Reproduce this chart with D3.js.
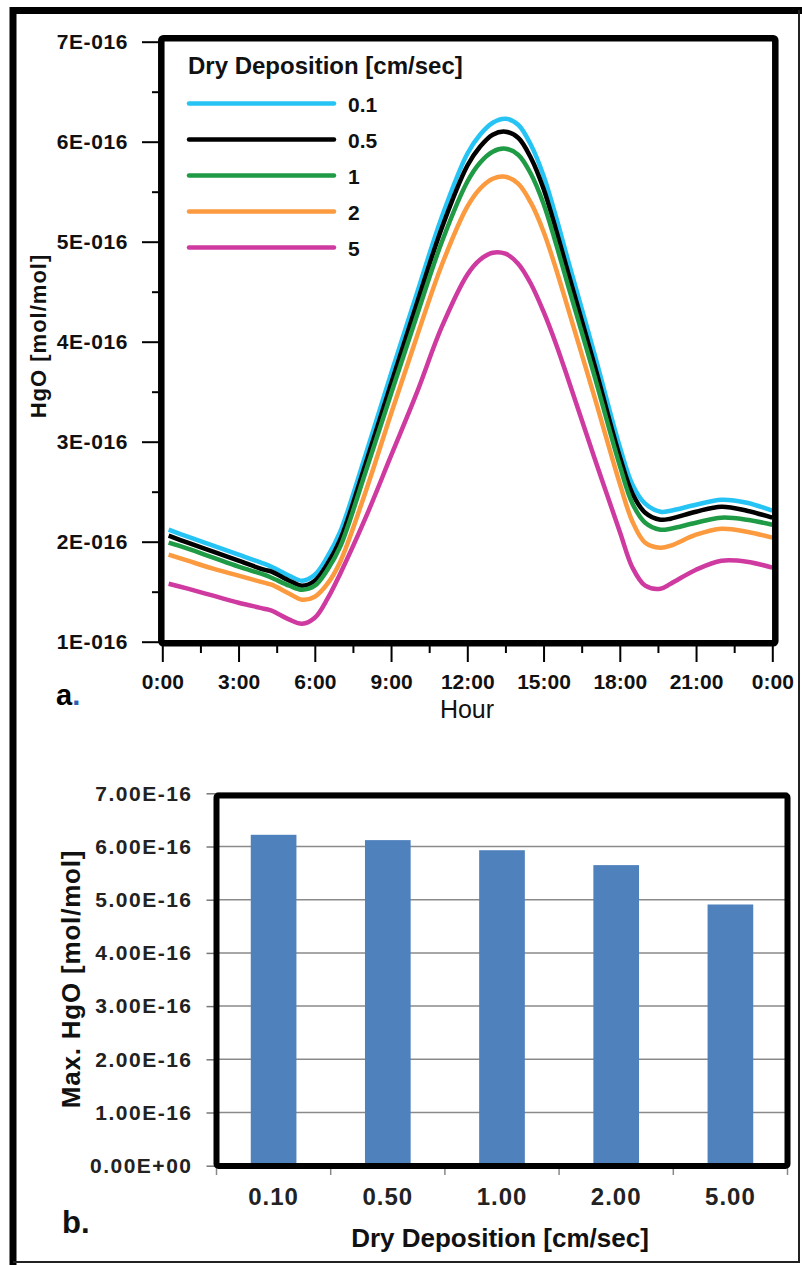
<!DOCTYPE html>
<html>
<head>
<meta charset="utf-8">
<script src="https://cdn.jsdelivr.net/npm/d3@7"></script>
<style>
  body { margin: 0; background: #fff; }
  svg { display: block; }
  text { font-family: "Liberation Sans", Arial, sans-serif; }
</style>
</head>
<body>
<svg id="chart" width="802" height="1265"></svg>
<script>
// panel a: hour of day
const hours = [0.25, 1, 2, 3, 4, 4.3, 5, 5.5, 6, 6.5, 7, 8, 9, 10, 11, 12, 12.5, 13, 13.5, 14, 14.5, 15, 15.5, 16, 17, 18, 18.5, 19, 19.6, 20, 21, 22, 23, 24];
// HgO in units of 1E-016 mol/mol, one array per dry deposition velocity
const hgo_01 = [2.12, 2.05, 1.96, 1.87, 1.78, 1.75, 1.66, 1.61, 1.67, 1.85, 2.10, 2.87, 3.68, 4.47, 5.25, 5.88, 6.07, 6.19, 6.23, 6.17, 5.97, 5.66, 5.24, 4.78, 3.88, 2.95, 2.57, 2.38, 2.30, 2.31, 2.37, 2.42, 2.39, 2.31];
const hgo_05 = [2.06, 1.99, 1.90, 1.81, 1.72, 1.70, 1.61, 1.56, 1.61, 1.78, 2.02, 2.78, 3.58, 4.37, 5.14, 5.76, 5.95, 6.07, 6.10, 6.04, 5.84, 5.53, 5.11, 4.66, 3.77, 2.85, 2.48, 2.29, 2.22, 2.23, 2.30, 2.35, 2.31, 2.24];
const hgo_1 = [1.99, 1.93, 1.84, 1.75, 1.67, 1.64, 1.56, 1.52, 1.56, 1.72, 1.95, 2.70, 3.48, 4.25, 5.00, 5.60, 5.79, 5.90, 5.93, 5.87, 5.68, 5.38, 4.97, 4.53, 3.66, 2.76, 2.38, 2.19, 2.12, 2.13, 2.19, 2.24, 2.22, 2.17];
const hgo_2 = [1.87, 1.81, 1.73, 1.66, 1.59, 1.57, 1.48, 1.42, 1.45, 1.58, 1.80, 2.50, 3.28, 4.04, 4.77, 5.35, 5.53, 5.63, 5.65, 5.58, 5.39, 5.10, 4.72, 4.30, 3.45, 2.58, 2.20, 1.99, 1.94, 1.96, 2.07, 2.13, 2.10, 2.04];
const hgo_5 = [1.58, 1.53, 1.46, 1.39, 1.33, 1.31, 1.22, 1.18, 1.24, 1.43, 1.68, 2.24, 2.86, 3.48, 4.15, 4.67, 4.82, 4.89, 4.88, 4.78, 4.58, 4.30, 3.97, 3.60, 2.84, 2.10, 1.74, 1.56, 1.53, 1.58, 1.72, 1.81, 1.80, 1.74];
const seriesNames = ["0.1", "0.5", "1", "2", "5"];
const seriesColors = ["#26c4f4", "#000000", "#1f9a45", "#fb9a3e", "#cf3aa0"];
const hourTicks = [0, 3, 6, 9, 12, 15, 18, 21, 24];
const yTicksA = [1, 2, 3, 4, 5, 6, 7];

// panel b: max HgO per deposition velocity
const depositions = ["0.10", "0.50", "1.00", "2.00", "5.00"];
const maxHgO = [6.22e-16, 6.12e-16, 5.93e-16, 5.65e-16, 4.91e-16];
const yTicksB = [0, 1e-16, 2e-16, 3e-16, 4e-16, 5e-16, 6e-16, 7e-16];

const svg = d3.select("#chart");
svg.append("rect").attr("width", 802).attr("height", 1265).attr("fill", "#fff");

// outer frame (thick on top/left like the scanned figure)
svg.append("path")
  .attr("d", "M13,1265 L13,10.5 L802,10.5")
  .attr("fill", "none").attr("stroke", "#000").attr("stroke-width", 7);
svg.append("path")
  .attr("d", "M799,10 L799,1262 L13,1262")
  .attr("fill", "none").attr("stroke", "#222").attr("stroke-width", 2);

// ---------- panel a ----------
const xA = d3.scaleLinear().domain([0, 24]).range([162.3, 772.3]);
const yA = d3.scaleLinear().domain([1, 7]).range([641.7, 41.7]);

const gA = svg.append("g");

// minor y ticks
gA.append("g").attr("transform", "translate(160,0)")
  .call(d3.axisLeft(yA).tickValues(d3.range(1.5, 7, 1)).tickSize(8).tickFormat(""))
  .call(g => g.select(".domain").remove())
  .call(g => g.selectAll("line").attr("stroke-width", 2));
// major y ticks
gA.append("g").attr("transform", "translate(160,0)")
  .call(d3.axisLeft(yA).tickValues(yTicksA).tickSize(18).tickPadding(14).tickFormat(d => d + "E-016"))
  .call(g => g.select(".domain").remove())
  .call(g => g.selectAll("line").attr("stroke-width", 2))
  .call(g => g.selectAll("text").attr("font-size", 21).attr("font-weight", "bold")
    .attr("letter-spacing", 0.6)
    .attr("font-family", "Liberation Sans, Arial, sans-serif").attr("fill", "#111"));

// minor x ticks
gA.append("g").attr("transform", "translate(0,646)")
  .call(d3.axisBottom(xA).tickValues(d3.range(1.5, 24, 3)).tickSize(7).tickFormat(""))
  .call(g => g.select(".domain").remove())
  .call(g => g.selectAll("line").attr("stroke-width", 2));
// major x ticks
gA.append("g").attr("transform", "translate(0,646)")
  .call(d3.axisBottom(xA).tickValues(hourTicks).tickSize(16).tickPadding(12).tickFormat(d => (d % 24) + ":00"))
  .call(g => g.select(".domain").remove())
  .call(g => g.selectAll("line").attr("stroke-width", 2))
  .call(g => g.selectAll("text").attr("font-size", 21).attr("font-weight", "bold")
    .attr("font-family", "Liberation Sans, Arial, sans-serif").attr("fill", "#111"));

// lines
const allSeries = [hgo_01, hgo_05, hgo_1, hgo_2, hgo_5];
const line = d3.line()
  .x((d, i) => xA(hours[i]))
  .y(d => yA(d))
  .curve(d3.curveCatmullRom.alpha(0.5));

gA.selectAll(".series")
  .data(allSeries)
  .enter()
  .append("path")
  .attr("class", "series")
  .attr("d", d => line(d))
  .attr("fill", "none")
  .attr("stroke", (d, i) => seriesColors[i])
  .attr("stroke-width", 4.5)
  .attr("stroke-linejoin", "round");

// frame of plot a
gA.append("rect")
  .attr("x", xA(0) - 1).attr("y", yA(7) - 3.5)
  .attr("width", xA(24) - xA(0) + 4).attr("height", yA(1) - yA(7) + 5)
  .attr("fill", "none").attr("stroke", "#000").attr("stroke-width", 6.5).attr("rx", 2);

// legend
const legend = gA.append("g");
legend.append("text")
  .attr("x", 188).attr("y", 74)
  .attr("font-size", 24).attr("font-weight", "bold").attr("fill", "#111")
  .text("Dry Deposition [cm/sec]");
const items = legend.selectAll(".item")
  .data(seriesNames)
  .enter()
  .append("g")
  .attr("transform", (d, i) => "translate(0," + (103.5 + i * 36) + ")");
items.append("line")
  .attr("x1", 189).attr("x2", 334)
  .attr("stroke", (d, i) => seriesColors[i])
  .attr("stroke-width", 4.5).attr("stroke-linecap", "round");
items.append("text")
  .attr("x", 348).attr("y", 8)
  .attr("font-size", 21).attr("font-weight", "bold").attr("fill", "#111")
  .text(d => d);

// axis titles panel a
gA.append("text")
  .attr("x", 467).attr("y", 718)
  .attr("text-anchor", "middle").attr("font-size", 25).attr("fill", "#111")
  .text("Hour");
gA.append("text")
  .attr("transform", "translate(46,336) rotate(-90)")
  .attr("text-anchor", "middle").attr("font-size", 22).attr("font-weight", "bold")
  .attr("letter-spacing", 1).attr("fill", "#111")
  .text("HgO [mol/mol]");
const labA = gA.append("text").attr("x", 56).attr("y", 705)
  .attr("font-size", 29).attr("font-weight", "bold").attr("fill", "#000");
labA.append("tspan").text("a");
labA.append("tspan").attr("fill", "#2b5fae").text(".");

// ---------- panel b ----------
const xB = d3.scaleBand().domain(depositions).range([216.5, 787.5]).paddingInner(0.6).paddingOuter(0.3);
const yB = d3.scaleLinear().domain([0, 7e-16]).range([1165.7, 793.3]);
const gB = svg.append("g");

// gridlines
gB.append("g")
  .selectAll("line")
  .data(yTicksB.slice(1))
  .enter()
  .append("line")
  .attr("x1", 216.5).attr("x2", 787.5)
  .attr("y1", d => yB(d)).attr("y2", d => yB(d))
  .attr("stroke", "#8a8a8a").attr("stroke-width", 1.5);

// y axis
gB.append("g").attr("transform", "translate(216.5,0)")
  .call(d3.axisLeft(yB).tickValues(yTicksB).tickSize(10).tickPadding(14)
    .tickFormat(d => d === 0 ? "0.00E+00" : (d * 1e16).toFixed(2) + "E-16"))
  .call(g => g.select(".domain").remove())
  .call(g => g.selectAll("line").attr("stroke", "#777").attr("stroke-width", 1.5))
  .call(g => g.selectAll("text").attr("font-size", 21).attr("font-weight", "bold")
    .attr("letter-spacing", 1.5)
    .attr("font-family", "Lato, sans-serif").attr("fill", "#222"));

// category boundary ticks
gB.append("g")
  .selectAll("line")
  .data(d3.range(depositions.length + 1))
  .enter()
  .append("line")
  .attr("x1", i => 216.5 + i * xB.step()).attr("x2", i => 216.5 + i * xB.step())
  .attr("y1", 1168).attr("y2", 1175)
  .attr("stroke", "#888").attr("stroke-width", 1.5);

// bars
gB.selectAll(".bar")
  .data(maxHgO)
  .enter()
  .append("rect")
  .attr("class", "bar")
  .attr("x", (d, i) => xB(depositions[i]))
  .attr("width", xB.bandwidth())
  .attr("y", d => yB(d))
  .attr("height", d => yB(0) - yB(d))
  .attr("fill", "#4f81bd");

// x labels
gB.append("g").attr("transform", "translate(0,1166)")
  .call(d3.axisBottom(xB).tickSize(0).tickPadding(22))
  .call(g => g.select(".domain").remove())
  .call(g => g.selectAll("text").attr("font-size", 24).attr("font-weight", "bold")
    .attr("letter-spacing", 1)
    .attr("font-family", "Lato, sans-serif").attr("fill", "#222"));

// frame of plot b
gB.append("rect")
  .attr("x", 216.5).attr("y", 795.5)
  .attr("width", 571).attr("height", 370.5)
  .attr("fill", "none").attr("stroke", "#000").attr("stroke-width", 6).attr("rx", 2);

gB.append("text")
  .attr("x", 500).attr("y", 1247)
  .attr("text-anchor", "middle").attr("font-size", 26).attr("font-weight", "bold")
  .attr("font-family", "Lato, sans-serif").attr("fill", "#111")
  .text("Dry Deposition [cm/sec]");
gB.append("text")
  .attr("transform", "translate(80,979) rotate(-90)")
  .attr("text-anchor", "middle").attr("font-size", 26).attr("font-weight", "bold")
  .attr("letter-spacing", 0.8)
  .attr("font-family", "Lato, sans-serif").attr("fill", "#111")
  .text("Max. HgO [mol/mol]");
gB.append("text")
  .attr("x", 62).attr("y", 1233)
  .attr("font-size", 31).attr("font-weight", "bold").attr("fill", "#111")
  .text("b.");
</script>
</body>
</html>
